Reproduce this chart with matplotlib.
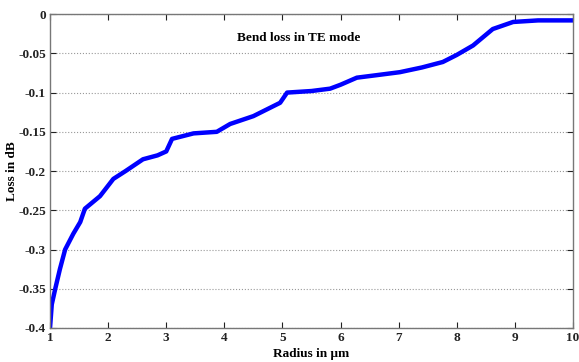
import numpy as np
import matplotlib
matplotlib.use("Agg")
import matplotlib.pyplot as plt

# bend loss values
radius = [1.0, 1.03, 1.09, 1.17, 1.26, 1.4, 1.52, 1.6, 1.86, 2.09, 2.3, 2.6, 2.85, 3.0, 3.1,
          3.47, 3.87, 4.1, 4.5, 4.96, 5.08, 5.5, 5.82, 6.0, 6.28, 6.6, 7.02, 7.4, 7.76,
          8.0, 8.28, 8.62, 8.97, 9.4, 10.0]
loss = [-0.4, -0.37, -0.35, -0.325, -0.30, -0.28, -0.265, -0.248, -0.232, -0.21, -0.2,
        -0.185, -0.18, -0.175, -0.159, -0.152, -0.15, -0.14, -0.13, -0.113, -0.1, -0.098,
        -0.095, -0.09, -0.081, -0.078, -0.074, -0.068, -0.061, -0.052, -0.04, -0.019,
        -0.01, -0.008, -0.008]

xticks = list(range(1, 11))
yticks = [0, -0.05, -0.1, -0.15, -0.2, -0.25, -0.3, -0.35, -0.4]
ytick_labels = ['0', '-0.05', '-0.1', '-0.15', '-0.2', '-0.25', '-0.3', '-0.35', '-0.4']

plt.rcParams['font.family'] = ['Liberation Serif', 'DejaVu Serif']
plt.rcParams['font.weight'] = 'bold'

fig = plt.figure(figsize=(5.79, 3.62), dpi=100)
ax = fig.add_axes([0.0864, 0.094, 0.9032, 0.867])

ax.plot(radius, loss, '-', color='#0000ff', linewidth=3.2, solid_joinstyle='round')

ax.set_xlim(1, 10)
ax.set_ylim(-0.4, 0)
ax.set_xticks(xticks)
ax.set_yticks(yticks)
ax.set_yticklabels(ytick_labels)
ax.tick_params(direction='in', length=4, labelsize=9.5, width=0.8, colors='#222222',
               top=True, right=True, pad=3)
ax.yaxis.grid(True, linestyle=':', color='#999999', linewidth=0.8)
for s in ax.spines.values():
    s.set_color('#777777')
    s.set_linewidth(1.0)

ax.set_xlabel('Radius in \u03bcm', fontsize=9.5, fontweight='bold', labelpad=3)
ax.set_ylabel('Loss in dB', fontsize=9.5, fontweight='bold', labelpad=0)
ax.text(0.357, 0.924, 'Bend loss in TE mode', transform=ax.transAxes, fontsize=9.5,
        fontweight='bold', ha='left', va='center')

plt.savefig('out.png', dpi=100)
